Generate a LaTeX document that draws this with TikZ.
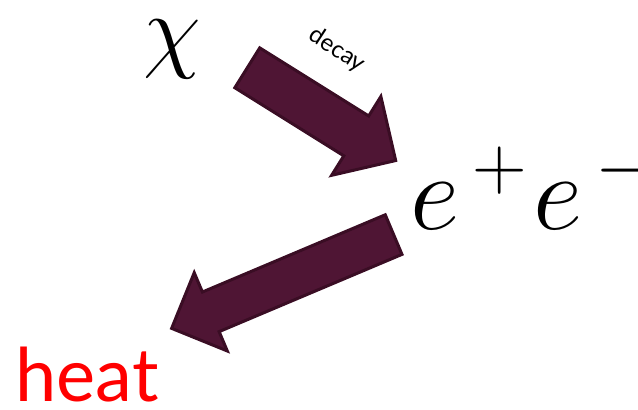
\documentclass[tikz,border=0pt]{standalone}
\usepackage{fix-cm}
\usepackage{fontspec}
\setsansfont{Lato}
\usetikzlibrary{shapes.arrows}
\definecolor{arrowfill}{RGB}{79,21,52}
\definecolor{arrowline}{RGB}{58,13,36}
\tikzset{
  bigarrow/.style={single arrow, draw=arrowline, fill=arrowfill, line width=1.5pt,
    single arrow tip angle=90, inner xsep=0pt, anchor=tail}
}
\begin{document}
\begin{tikzpicture}[x=0.5pt, y=0.5pt]
  \useasboundingbox (0,0) rectangle (638,409);

  % Các hạt và sản phẩm
  \node[inner sep=0pt] (chi) at (172,360) {\fontsize{47}{52}\selectfont $\chi$};
  \node[inner sep=0pt, anchor=base west] (ee) at (410,180)
    {\fontsize{54}{60}\selectfont $e^{\mkern3mu+}\mkern1mu e^{\mkern3mu-}$};
  \node[inner sep=0pt, anchor=base west, text=red] (heat) at (15,8) {\fontsize{37}{42}\selectfont\sffamily heat};

  % Mũi tên phân rã
  \node[bigarrow, inner ysep=11pt, single arrow head extend=11.5pt,
        minimum height=87.5pt, rotate=-32] (a1) at (246,342) {};
  \node[inner sep=0pt, rotate=-33] (decay) at (337,359) {\fontsize{12}{14}\selectfont\sffamily decay};

  % Mũi tên sinh nhiệt
  \node[bigarrow, inner ysep=10pt, single arrow head extend=10.5pt,
        minimum height=120.5pt, rotate=202.9] (a2) at (395,175) {};

\end{tikzpicture}
\end{document}
